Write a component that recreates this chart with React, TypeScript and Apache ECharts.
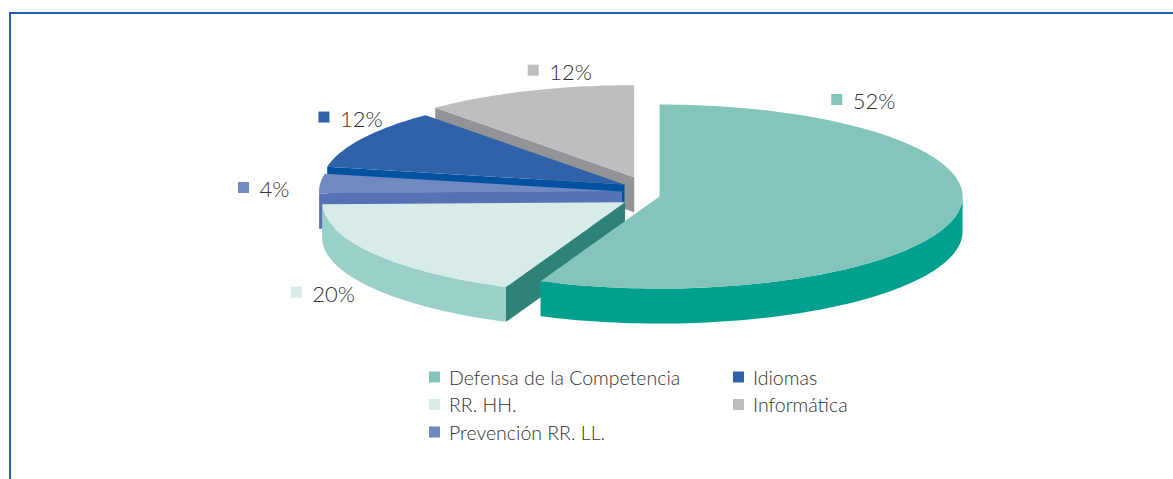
import React, { useEffect, useRef } from "react";
import * as echarts from "echarts";

// ---------- data ----------
const categories = [
  "Defensa de la Competencia",
  "RR. HH.",
  "Prevención RR. LL.",
  "Idiomas",
  "Informática",
];
const shares = [52, 20, 4, 12, 12];

// ---------- styles ----------
const topColors = ["#83c5bb", "#d7ebe8", "#7189c1", "#2f62a9", "#bdbec0"];
const rimColors = ["#00a08f", "#9ad0c8", "#5673b5", "#0a55a3", "#a3a4a8"];
const edgeColors = ["#2e8278", "#2e8278", "#5472b5", "#0051a0", "#939498"];
const labelAngle = [29, 228, 272, 306.5, 344];
const labelScale = [1.206, 1.46, 1.25, 1.234, 1.209];

const PIE = { cx: 641, cy: 193, rx: 303, ry: 92, depth: 35, ex: 19, ey: 17, warp: 8 };
const FONT = "Lato";

const rad = (d: number) => (d * Math.PI) / 180;
const warp = (d: number) => d + PIE.warp * (1 - Math.cos(rad(d)));

function makeRender(i: number) {
  return (params: any, api: any) => {
    const v = api.value(0);
    const total = shares.reduce((a, b) => a + b, 0);
    const before = shares.slice(0, i).reduce((a, b) => a + b, 0);
    const t0 = (before / total) * 360;
    const t1 = ((before + v) / total) * 360;
    const p0 = warp(t0);
    const p1 = warp(t1);
    const pm = warp((t0 + t1) / 2);
    const ax = PIE.cx + PIE.ex * Math.sin(rad(pm));
    const ay = PIE.cy - PIE.ey * Math.cos(rad(pm));
    const h = PIE.depth;
    const pt = (phi: number, dy = 0) => [
      ax + PIE.rx * Math.sin(rad(phi)),
      ay - PIE.ry * Math.cos(rad(phi)) + dy,
    ];
    const sample = (a: number, b: number, dy = 0) => {
      const n = Math.max(2, Math.ceil((b - a) / 1.5));
      const out: number[][] = [];
      for (let k = 0; k <= n; k++) out.push(pt(a + ((b - a) * k) / n, dy));
      return out;
    };
    const children: any[] = [];
    // radial walls
    const radial = (phi: number) => {
      const r = pt(phi);
      const midY = (ay + r[1]) / 2;
      children.push({
        type: "polygon",
        z2: 10 + midY * 0.01,
        shape: { points: [[ax, ay], r, [r[0], r[1] + h], [ax, ay + h]] },
        style: { fill: edgeColors[i] },
        silent: true,
      });
    };
    if (Math.sin(rad(p0)) < -1e-6) radial(p0);
    if (Math.sin(rad(p1)) > 1e-6) radial(p1);
    // rim wall
    const lo = Math.max(p0, 90);
    const hi = Math.min(p1, 270);
    if (hi > lo) {
      const topArc = sample(lo, hi);
      const botArc = sample(lo, hi, h).reverse();
      children.push({
        type: "polygon",
        z2: 20,
        shape: { points: topArc.concat(botArc) },
        style: { fill: rimColors[i] },
        silent: true,
      });
    }
    // top face
    children.push({
      type: "polygon",
      z2: 30,
      shape: { points: [[ax, ay]].concat(sample(p0, p1)) },
      style: { fill: topColors[i] },
      silent: true,
    });
    // label
    const la = rad(labelAngle[i]);
    const lx = ax + PIE.rx * labelScale[i] * Math.sin(la);
    const ly = ay - PIE.ry * labelScale[i] * Math.cos(la);
    children.push({
      type: "rect",
      z2: 40,
      shape: { x: lx - 5.5, y: ly - 5.5, width: 11, height: 11 },
      style: { fill: topColors[i] },
      silent: true,
    });
    children.push({
      type: "text",
      z2: 40,
      x: lx + 16,
      y: ly + 1,
      style: {
        text: `${v}%`,
        fill: "#333333",
        fontSize: 22,
        fontWeight: 300,
        fontFamily: FONT,
        align: "left",
        verticalAlign: "middle",
        textAlign: "left",
        textVerticalAlign: "middle",
      },
      silent: true,
    });
    return { type: "group", children };
  };
}

export default function App() {
  const ref = useRef<HTMLDivElement>(null);
  useEffect(() => {
    if (!ref.current) return;
    const chart = echarts.init(ref.current, undefined, { renderer: "svg" });
    const legendBase = {
      orient: "vertical",
      top: 367,
      padding: 0,
      itemWidth: 11,
      itemHeight: 11,
      itemGap: 7.5,
      icon: "rect",
      selectedMode: false,
      textStyle: {
        fontFamily: FONT,
        fontSize: 19.5,
        fontWeight: 300,
        color: "#333333",
        lineHeight: 20,
        padding: [0, 0, 0, 4],
      },
    };
    chart.setOption({
      animation: false,
      backgroundColor: "#ffffff",
      graphic: [
        {
          type: "rect",
          silent: true,
          shape: { x: 10, y: 13, width: 1400, height: 700 },
          style: { fill: "none", stroke: "#1f62b4", lineWidth: 2 },
        },
      ],
      legend: [
        {
          ...legendBase,
          left: 429,
          data: [0, 1, 2].map((k) => ({ name: categories[k], itemStyle: { color: topColors[k] } })),
        },
        {
          ...legendBase,
          left: 733,
          data: [3, 4].map((k) => ({ name: categories[k], itemStyle: { color: topColors[k] } })),
        },
      ],
      series: categories.map((name, i) => ({
        type: "custom",
        name,
        coordinateSystem: "none",
        itemStyle: { color: topColors[i] },
        data: [[shares[i]]],
        renderItem: makeRender(i),
      })),
    });
    return () => chart.dispose();
  }, []);
  return (
    <div
      ref={ref}
      style={{ position: "absolute", left: 0, top: 0, width: 1173, height: 479 }}
    />
  );
}
